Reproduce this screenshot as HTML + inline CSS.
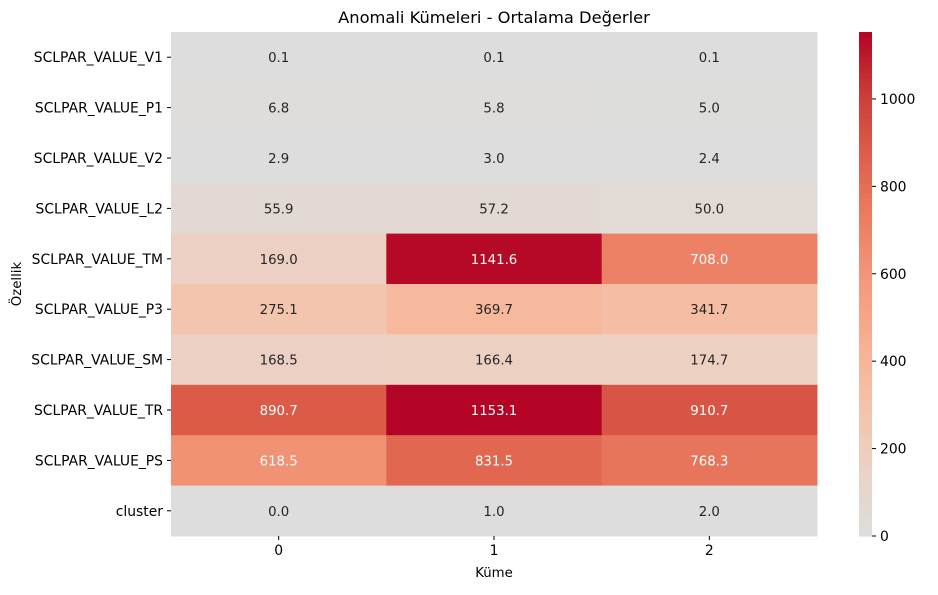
<!DOCTYPE html>
<html><head><meta charset="utf-8"><style>
body{margin:0;background:#fff;font-family:"Liberation Sans","DejaVu Sans",sans-serif;}
svg text{font-family:"DejaVu Sans","Liberation Sans",sans-serif;}
</style></head><body>
<svg id="chart" width="938" height="590" viewBox="0 0 938 590">
<text x="494" y="23" text-anchor="middle" font-size="16.3" fill="#000">Anomali Kümeleri - Ortalama Değerler</text>
<text x="494" y="577" text-anchor="middle" font-size="13.3" fill="#000">Küme</text>
<text transform="translate(21,284) rotate(-90)" text-anchor="middle" font-size="13.3" fill="#000">Özellik</text>
<g id="cells"></g>
<g id="cbar"></g>
</svg>
<script>
const features=["SCLPAR_VALUE_V1","SCLPAR_VALUE_P1","SCLPAR_VALUE_V2","SCLPAR_VALUE_L2","SCLPAR_VALUE_TM","SCLPAR_VALUE_P3","SCLPAR_VALUE_SM","SCLPAR_VALUE_TR","SCLPAR_VALUE_PS","cluster"];
const clusters=["0","1","2"];
const cluster0=[0.1,6.8,2.9,55.9,169.0,275.1,168.5,890.7,618.5,0.0];
const cluster1=[0.1,5.8,3.0,57.2,1141.6,369.7,166.4,1153.1,831.5,1.0];
const cluster2=[0.1,5.0,2.4,50.0,708.0,341.7,174.7,910.7,768.3,2.0];
const cbarTicks=[0,200,400,600,800,1000];
const series=[cluster0,cluster1,cluster2];
const vmax=Math.max(...series.flat());
const X0=171,X1=817,Y0=32,Y1=536;
const cw=(X1-X0)/clusters.length, ch=(Y1-Y0)/features.length;
const stops=[[221,221,221],[234,211,199],[244,196,173],[247,177,147],[244,154,123],[236,127,99],[222,96,76],[203,62,56],[180,4,38]];
function color(v){let t=Math.max(0,Math.min(1,v/vmax))*(stops.length-1);let i=Math.min(Math.floor(t),stops.length-2),f=t-i;
 return stops[i].map((c,k)=>Math.round(c+(stops[i+1][k]-c)*f));}
function lum(c){const l=c.map(x=>{x/=255;return x<=0.03928?x/12.92:Math.pow((x+0.055)/1.055,2.4)});return 0.2126*l[0]+0.7152*l[1]+0.0722*l[2];}
const NS="http://www.w3.org/2000/svg";
function el(t,a,p){const e=document.createElementNS(NS,t);for(const k in a)e.setAttribute(k,a[k]);p.appendChild(e);return e;}
const g=document.getElementById('cells');
const svg=document.getElementById('chart');
series.forEach((s,j)=>{s.forEach((v,i)=>{
 const c=color(v);
 const r=el('rect',{x:X0+j*cw,y:Y0+i*ch,width:cw+0.5,height:ch+0.5,fill:`rgb(${c})`},g);
 
 
 const t=el('text',{x:X0+(j+0.5)*cw,y:Y0+(i+0.5)*ch+5,'text-anchor':'middle','font-size':'13.3',fill:lum(c)>0.408?'#262626':'#ffffff'},g);
 t.textContent=v.toFixed(1);
 
 
});});
features.forEach((f,i)=>{const y=Y0+(i+0.5)*ch;
 el('line',{x1:X0-4,x2:X0,y1:y,y2:y,stroke:'#000','stroke-width':1},svg);
 const t=el('text',{x:X0-8,y:y+5,'text-anchor':'end','font-size':'13.9',fill:'#000'},svg);t.textContent=f;
 
 });
clusters.forEach((c,j)=>{const x=X0+(j+0.5)*cw;
 el('line',{x1:x,x2:x,y1:Y1,y2:Y1+4,stroke:'#000','stroke-width':1},svg);
 const t=el('text',{x:x,y:Y1+19,'text-anchor':'middle','font-size':'13.9',fill:'#000'},svg);t.textContent=c;
 
 });
const cb=document.getElementById('cbar');const CX=859,CW=13,N=100;
for(let k=0;k<N;k++){const v0=vmax*k/N;const c=color(v0+vmax/(2*N));
 el('rect',{x:CX,y:Y1-(k+1)*(Y1-Y0)/N,width:CW,height:(Y1-Y0)/N+0.6,fill:`rgb(${c})`},cb);}


cbarTicks.forEach(v=>{const y=Y1-v/vmax*(Y1-Y0);
 el('line',{x1:CX+CW,x2:CX+CW+4,y1:y,y2:y,stroke:'#000','stroke-width':1},svg);
 const t=el('text',{x:CX+CW+8,y:y+5,'font-size':'13.9',fill:'#000'},svg);t.textContent=v;
 
 });
</script>
</body></html>
